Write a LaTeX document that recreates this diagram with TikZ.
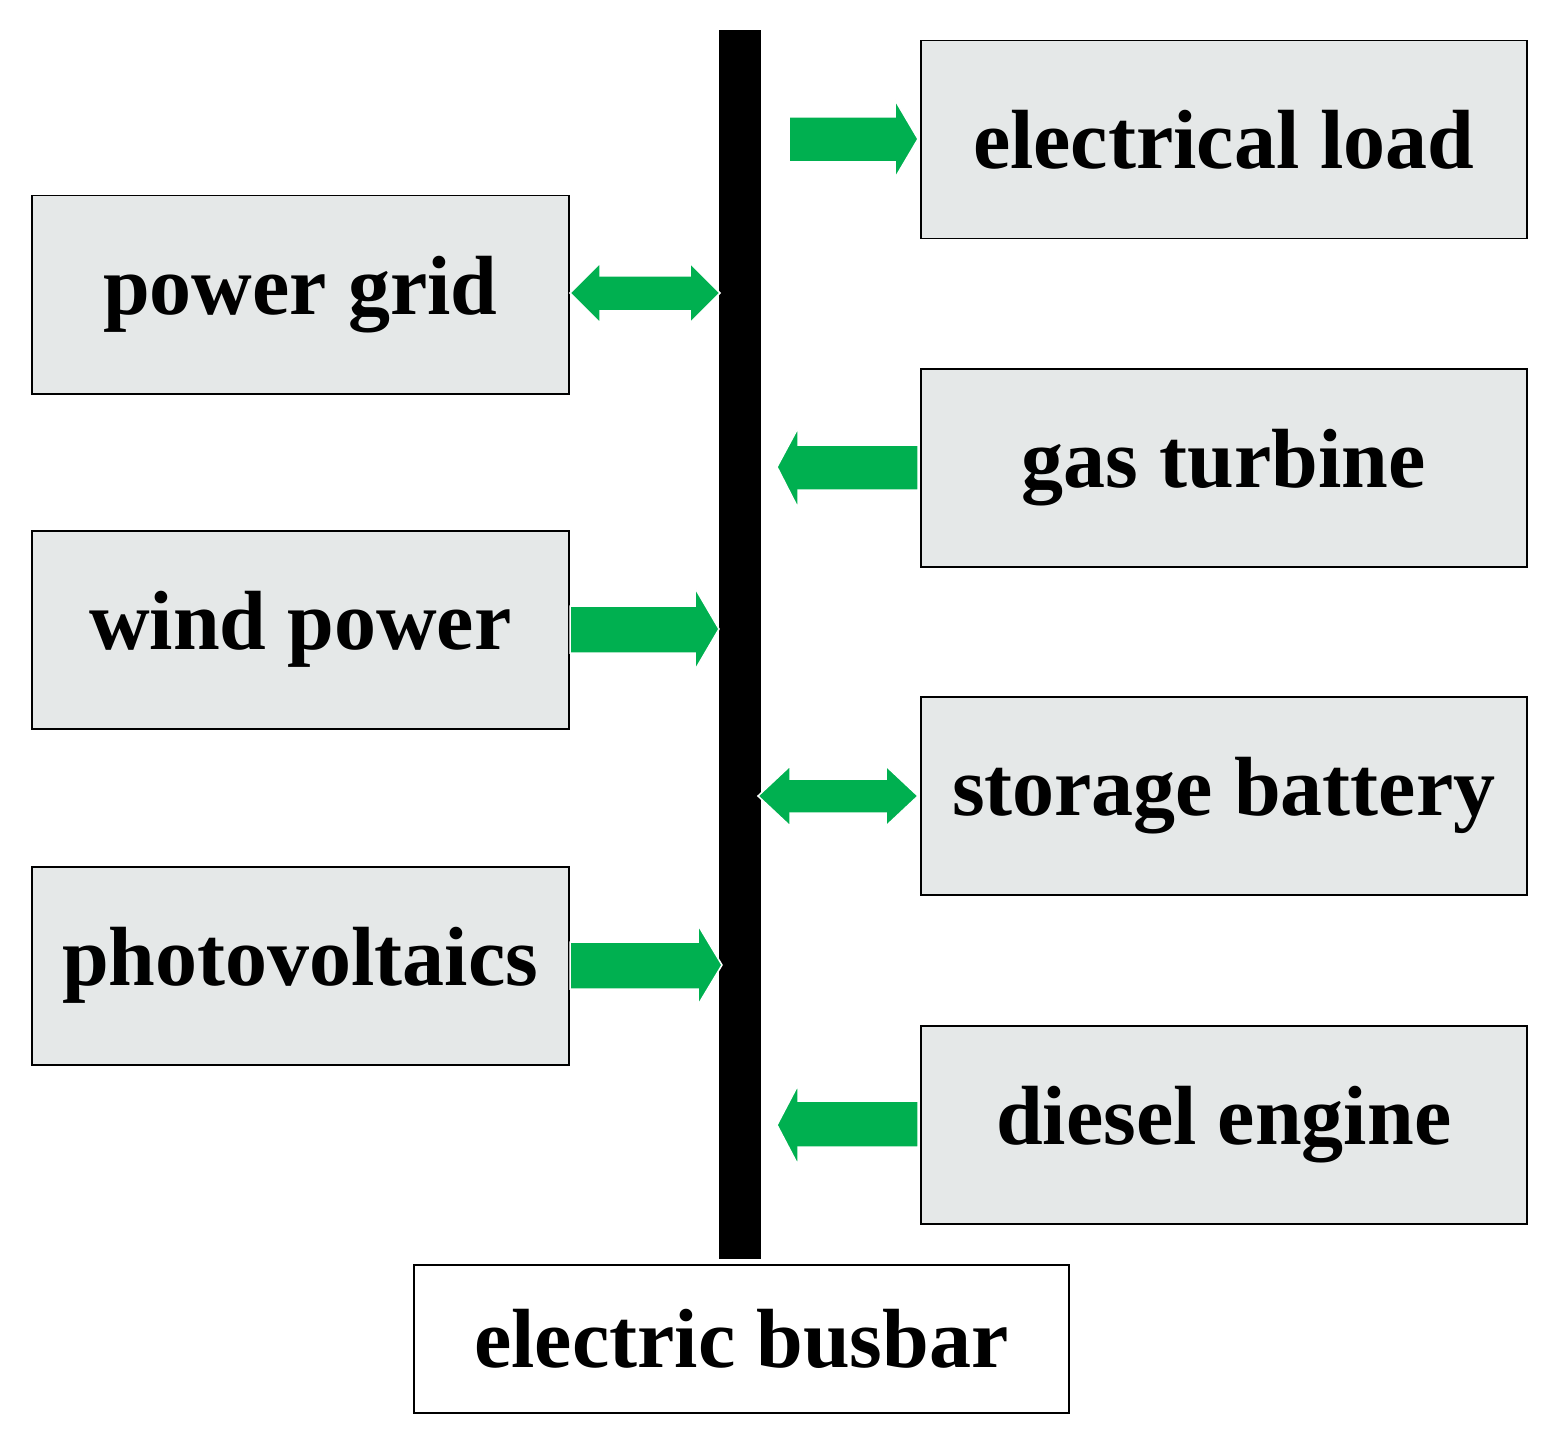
\documentclass[tikz,border=0pt]{standalone}
\usepackage{fontspec}
\setmainfont{Liberation Serif}
\definecolor{boxgray}{HTML}{E5E8E8}
\definecolor{agreen}{HTML}{00B050}
\begin{document}
\begin{tikzpicture}[x=1pt,y=-1pt,
  box/.style={draw=black,line width=1.5pt,fill=boxgray,minimum width=#1,minimum height=198pt,inner sep=0pt,anchor=north west,font=\fontsize{84}{84}\selectfont\bfseries},
  arr/.style={fill=agreen,draw=white,line width=1.5pt}]
\useasboundingbox (0,0) rectangle (1545,1431);
\fill[black] (719,30) rectangle (761,1259);
\node[box=537pt] (grid) at (31,195) {power grid};
\node[box=537pt] (wind) at (31,530) {wind power};
\node[box=537pt] (pv) at (31,866) {photovoltaics};
\node[box=606pt] (load) at (920,40) {electrical load};
\node[box=606pt] (gas) at (920,368) {gas turbine};
\node[box=606pt] (bat) at (920,696) {storage battery};
\node[box=606pt] (die) at (920,1025) {diesel engine};
\node[box=655pt,fill=white,minimum height=148pt] (bus) at (413,1264) {electric busbar};
% electrical load (right arrow)
\path[arr] (789,117)--(895,117)--(895,100)--(918,139)--(895,178)--(895,162)--(789,162)--cycle;
% power grid (double)
\path[arr] (570,293)--(600,263)--(600,276)--(690,276)--(690,263)--(720,293)--(690,323)--(690,311)--(600,311)--(600,323)--cycle;
% wind power
\path[arr] (570,606)--(695,606)--(695,588)--(719,629)--(695,670)--(695,653)--(570,653)--cycle;
% gas turbine (left)
\path[arr] (918,445)--(798,445)--(798,428)--(777,467)--(798,508)--(798,490)--(918,490)--cycle;
% storage battery (double)
\path[arr] (758,796)--(790,766)--(790,779)--(886,779)--(886,766)--(918,796)--(886,826)--(886,813)--(790,813)--(790,826)--cycle;
% photovoltaics
\path[arr] (570,942)--(698,942)--(698,925)--(722,965)--(698,1005)--(698,989)--(570,989)--cycle;
% diesel engine (left)
\path[arr] (918,1101)--(798,1101)--(798,1085)--(777,1125)--(798,1165)--(798,1147)--(918,1147)--cycle;
\end{tikzpicture}
\end{document}
